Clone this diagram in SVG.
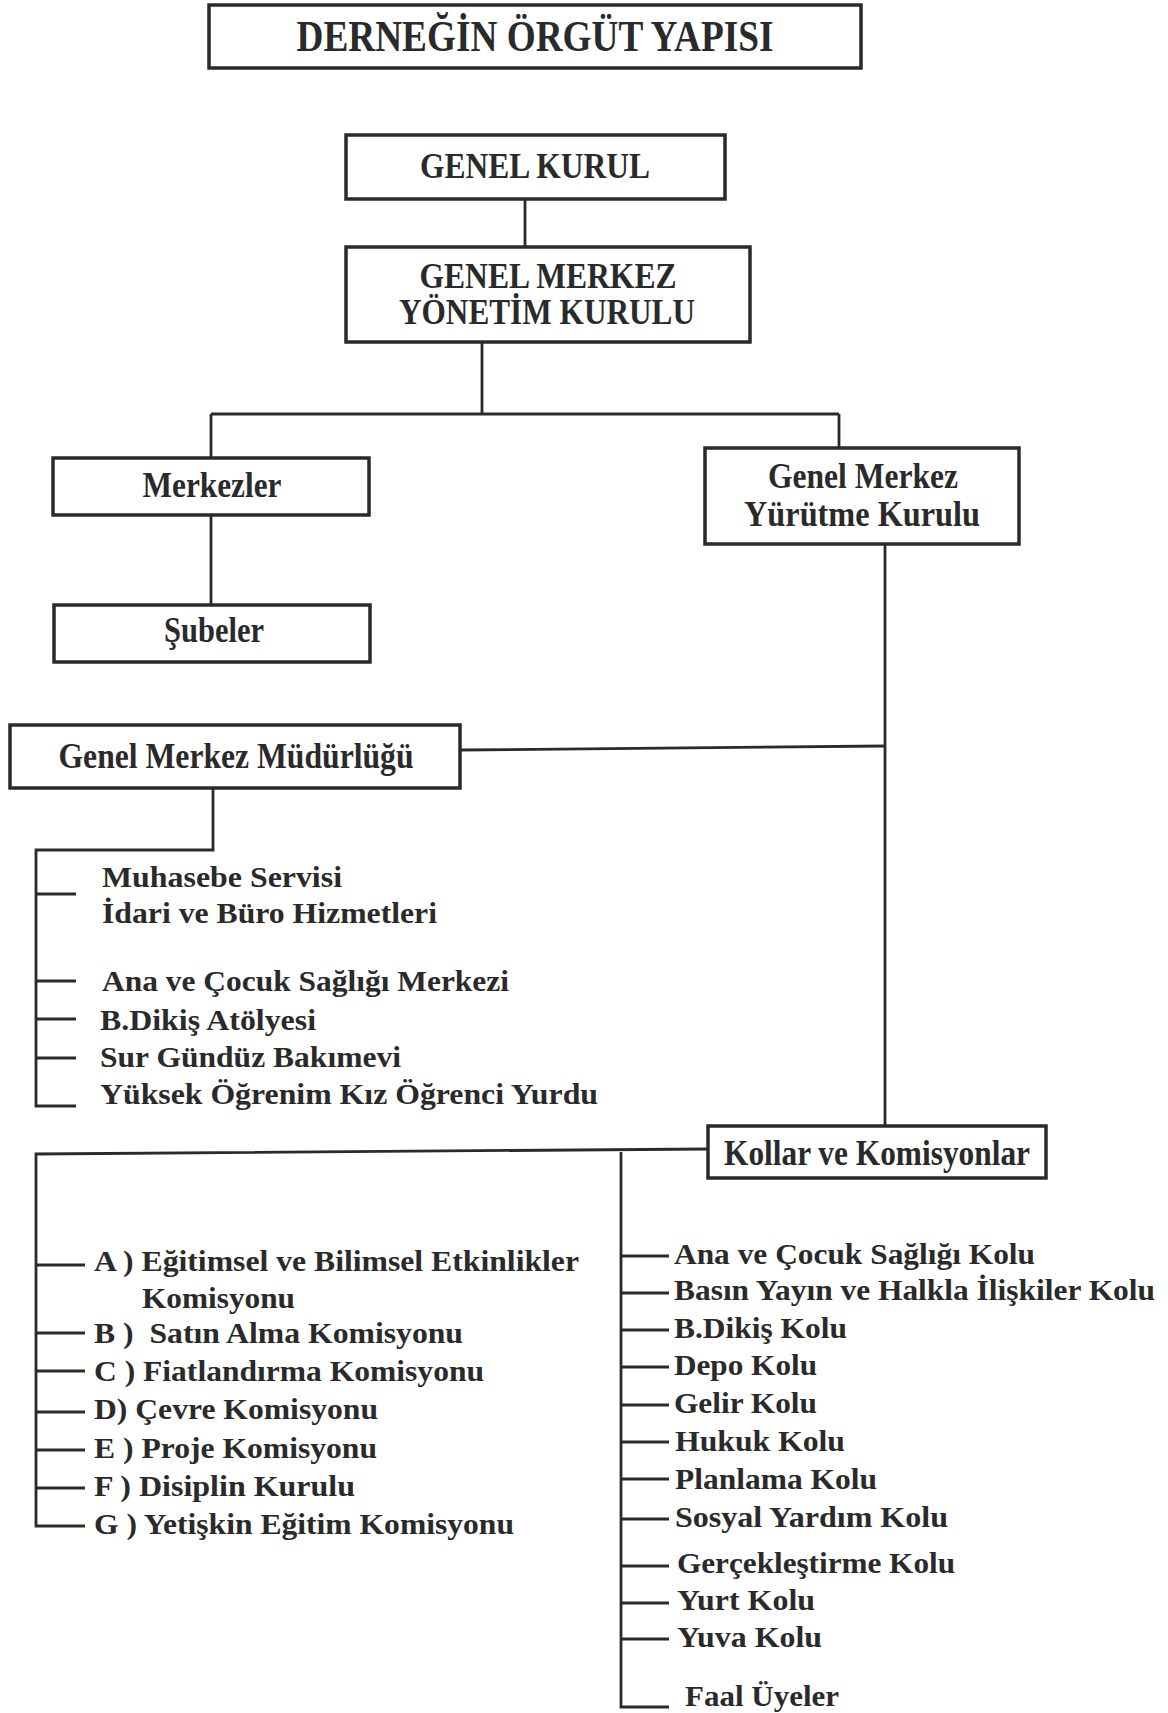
<svg xmlns="http://www.w3.org/2000/svg" width="1168" height="1713" viewBox="0 0 1168 1713">
<style>
.box{fill:#fff;stroke:#2a2a2a;stroke-width:3.5}
.ln{fill:none;stroke:#2a2a2a;stroke-width:2.8}
.t{font-family:"Liberation Serif","Times New Roman",serif;fill:#2a2a2a;font-weight:bold}
.bt{font-size:35px;text-anchor:middle}
.li{font-size:30px}
</style>
<rect width="1168" height="1713" fill="#fff"/>
<g id="title">
<rect class="box" x="209" y="5" width="652" height="63"/>
<text class="t" x="535" y="51" font-size="44" text-anchor="middle" textLength="477" lengthAdjust="spacingAndGlyphs">DERNEĞİN ÖRGÜT YAPISI</text>
</g>
<g id="connectors">
<path class="ln" d="M525 199V248"/>
<path class="ln" d="M482 342V414M211 414H839M211 414V459M839 414V448"/>
<path class="ln" d="M211 515V604"/>
<path class="ln" d="M885 544V1125"/>
<path class="ln" d="M460 750L885 746"/>
<path class="ln" d="M213 788V850H36V1106H76M36 894H76M36 981H76M36 1019H76M36 1058H76"/>
<path class="ln" d="M708 1149L36 1154V1526H85M36 1265H85M36 1333H85M36 1371H85M36 1412H85M36 1450H85M36 1488H85"/>
<path class="ln" d="M621 1152V1707H669M621 1256H669M621 1293H669M621 1330H669M621 1367H669M621 1405H669M621 1442H669M621 1479H669M621 1519H669M621 1566H669M621 1603H669M621 1639H669"/>
</g>
<g id="genel-kurul">
<rect class="box" x="346" y="135" width="379" height="64"/>
<text class="t bt" x="535" y="178" textLength="230" lengthAdjust="spacingAndGlyphs">GENEL KURUL</text>
</g>
<g id="genel-merkez-yonetim-kurulu">
<rect class="box" x="346" y="247" width="404" height="95"/>
<text class="t bt" x="548" y="288" textLength="257" lengthAdjust="spacingAndGlyphs">GENEL MERKEZ</text>
<text class="t bt" x="547" y="324" textLength="296" lengthAdjust="spacingAndGlyphs">YÖNETİM KURULU</text>
</g>
<g id="merkezler">
<rect class="box" x="53" y="458" width="316" height="57"/>
<text class="t bt" x="212" y="497" textLength="139" lengthAdjust="spacingAndGlyphs">Merkezler</text>
</g>
<g id="genel-merkez-yurutme-kurulu">
<rect class="box" x="705" y="448" width="314" height="96"/>
<text class="t bt" x="863" y="488" textLength="190" lengthAdjust="spacingAndGlyphs">Genel Merkez</text>
<text class="t bt" x="862" y="526" textLength="236" lengthAdjust="spacingAndGlyphs">Yürütme  Kurulu</text>
</g>
<g id="subeler">
<rect class="box" x="54" y="605" width="316" height="57"/>
<text class="t bt" x="214" y="642" textLength="100" lengthAdjust="spacingAndGlyphs">Şubeler</text>
</g>
<g id="genel-merkez-mudurlugu">
<rect class="box" x="10" y="725" width="450" height="63"/>
<text class="t bt" x="236" y="768" textLength="355" lengthAdjust="spacingAndGlyphs">Genel Merkez Müdürlüğü</text>
</g>
<g id="mudurluk-birimleri">
<text class="t li" x="102" y="887" textLength="240" lengthAdjust="spacingAndGlyphs">Muhasebe Servisi</text>
<text class="t li" x="102" y="923" textLength="335" lengthAdjust="spacingAndGlyphs">İdari ve Büro Hizmetleri</text>
<text class="t li" x="102" y="991" textLength="407" lengthAdjust="spacingAndGlyphs">Ana ve Çocuk Sağlığı Merkezi</text>
<text class="t li" x="100" y="1030" textLength="216" lengthAdjust="spacingAndGlyphs">B.Dikiş Atölyesi</text>
<text class="t li" x="100" y="1067" textLength="301" lengthAdjust="spacingAndGlyphs">Sur Gündüz Bakımevi</text>
<text class="t li" x="100" y="1104" textLength="498" lengthAdjust="spacingAndGlyphs">Yüksek Öğrenim Kız Öğrenci Yurdu</text>
</g>
<g id="kollar-ve-komisyonlar">
<rect class="box" x="708" y="1126" width="338" height="52"/>
<text class="t bt" x="877" y="1165" textLength="306" lengthAdjust="spacingAndGlyphs">Kollar ve Komisyonlar</text>
</g>
<g id="komisyonlar">
<text class="t li" x="94" y="1271" textLength="485" lengthAdjust="spacingAndGlyphs">A ) Eğitimsel ve Bilimsel Etkinlikler</text>
<text class="t li" x="142" y="1308" textLength="153" lengthAdjust="spacingAndGlyphs">Komisyonu</text>
<text class="t li" x="94" y="1343" textLength="369" lengthAdjust="spacingAndGlyphs" xml:space="preserve">B )  Satın Alma Komisyonu</text>
<text class="t li" x="94" y="1381" textLength="390" lengthAdjust="spacingAndGlyphs">C ) Fiatlandırma Komisyonu</text>
<text class="t li" x="94" y="1419" textLength="284" lengthAdjust="spacingAndGlyphs">D) Çevre Komisyonu</text>
<text class="t li" x="94" y="1458" textLength="283" lengthAdjust="spacingAndGlyphs">E ) Proje Komisyonu</text>
<text class="t li" x="94" y="1496" textLength="261" lengthAdjust="spacingAndGlyphs">F ) Disiplin Kurulu</text>
<text class="t li" x="94" y="1534" textLength="420" lengthAdjust="spacingAndGlyphs">G ) Yetişkin Eğitim Komisyonu</text>
</g>
<g id="kollar">
<text class="t li" x="674" y="1264" textLength="361" lengthAdjust="spacingAndGlyphs">Ana ve Çocuk Sağlığı Kolu</text>
<text class="t li" x="674" y="1300" textLength="481" lengthAdjust="spacingAndGlyphs">Basın Yayın ve Halkla İlişkiler Kolu</text>
<text class="t li" x="674" y="1338" textLength="173" lengthAdjust="spacingAndGlyphs">B.Dikiş Kolu</text>
<text class="t li" x="674" y="1375" textLength="143" lengthAdjust="spacingAndGlyphs">Depo Kolu</text>
<text class="t li" x="674" y="1413" textLength="143" lengthAdjust="spacingAndGlyphs">Gelir Kolu</text>
<text class="t li" x="675" y="1451" textLength="170" lengthAdjust="spacingAndGlyphs">Hukuk Kolu</text>
<text class="t li" x="675" y="1489" textLength="202" lengthAdjust="spacingAndGlyphs">Planlama Kolu</text>
<text class="t li" x="675" y="1527" textLength="273" lengthAdjust="spacingAndGlyphs">Sosyal Yardım Kolu</text>
<text class="t li" x="677" y="1573" textLength="278" lengthAdjust="spacingAndGlyphs">Gerçekleştirme Kolu</text>
<text class="t li" x="677" y="1610" textLength="138" lengthAdjust="spacingAndGlyphs">Yurt Kolu</text>
<text class="t li" x="677" y="1647" textLength="145" lengthAdjust="spacingAndGlyphs">Yuva Kolu</text>
<text class="t li" x="685" y="1706" textLength="154" lengthAdjust="spacingAndGlyphs">Faal Üyeler</text>
</g>
</svg>
